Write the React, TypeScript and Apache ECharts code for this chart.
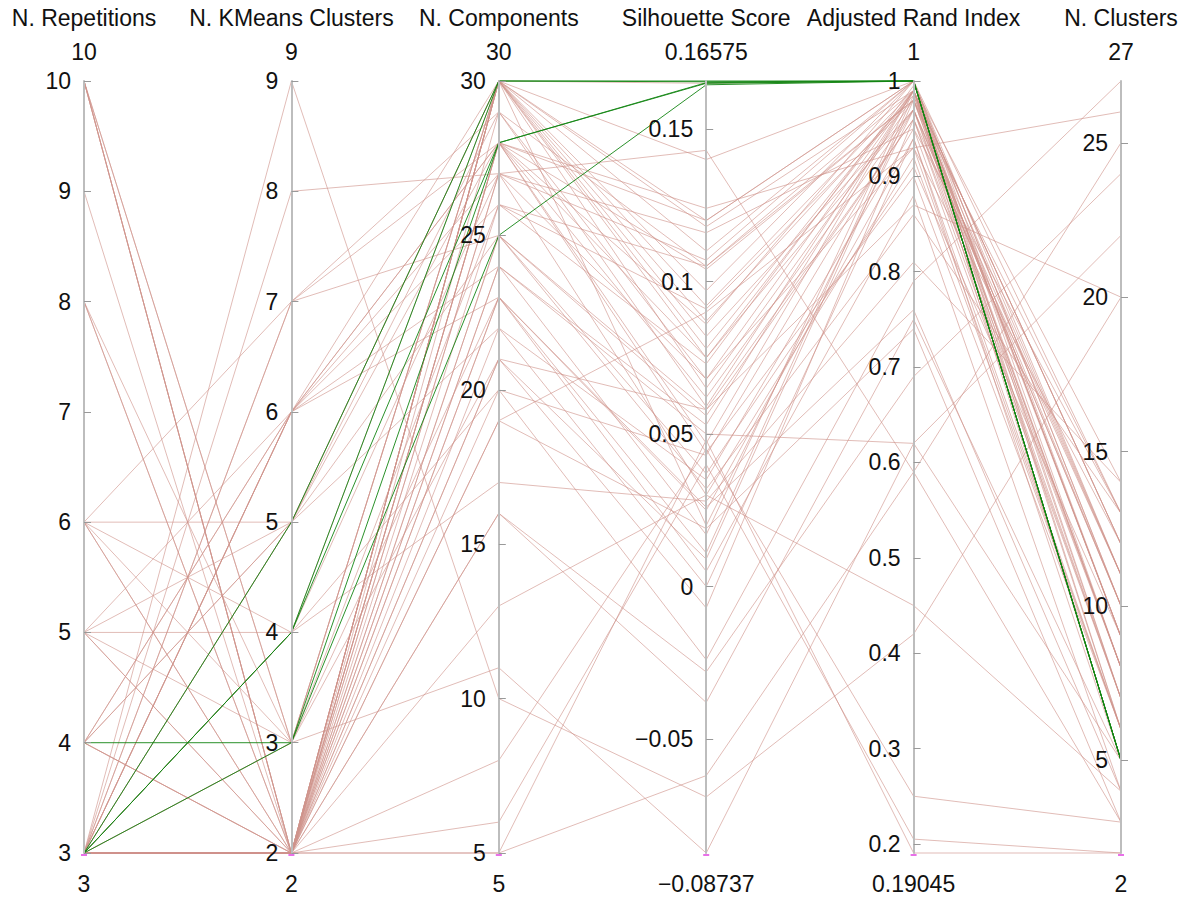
import React, { useEffect, useRef } from 'react';
import * as echarts from 'echarts';

const axisTitles = ['N. Repetitions', 'N. KMeans Clusters', 'N. Components', 'Silhouette Score', 'Adjusted Rand Index', 'N. Clusters'];

// other runs (pink)
const repetitions = [
  10, 10, 10, 10, 10, 9, 8, 8, 6, 6,
  6, 6, 5, 5, 5, 5, 4, 4, 4, 4,
  3, 3, 3, 3, 3, 3, 3, 3, 3, 3,
  3, 3, 3, 3, 3, 3, 3, 3, 3, 3,
  3, 4, 5, 6, 3, 4, 3, 5, 3, 3,
  10, 3, 3, 4, 3, 3, 6, 3, 3, 8,
  3, 3,
];
const kmeansClusters = [
  2, 2, 3, 2, 3, 2, 2, 3, 5, 2,
  3, 7, 4, 2, 3, 6, 6, 5, 2, 6,
  9, 8, 7, 6, 6, 5, 2, 2, 2, 2,
  2, 2, 2, 2, 2, 2, 2, 2, 2, 3,
  4, 5, 5, 4, 6, 2, 3, 2, 7, 2,
  2, 2, 6, 2, 2, 5, 2, 2, 4, 2,
  2, 2,
];
const components = [
  30, 28, 26, 22, 30, 27, 24, 23, 30, 25,
  21, 28, 20, 19, 30, 27, 28, 30, 23, 24,
  10, 27, 29, 28, 26, 25, 30, 30, 28, 27,
  24, 23, 21, 20, 16, 13, 8, 6, 5, 11,
  30, 28, 22, 17, 30, 29, 30, 25, 25, 30,
  28, 26, 23, 21, 19, 29, 30, 28, 27, 30,
  5, 16,
];
const silhouette = [
  0.118, 0.075, 0.105, 0.035, 0.140, 0.068, 0.053, 0.026, 0.092, 0.058,
  0.009, 0.120, 0.043, 0.019, 0.078, 0.116, 0.086, 0.065, 0.025, 0.050,
  -0.069, 0.143, 0.105, 0.124, 0.091, 0.056, 0.097, 0.075, 0.062, 0.030,
  0.017, 0.005, -0.007, -0.024, -0.028, 0.030, 0.045, 0.040, 0.048, -0.08737,
  0.110, 0.047, 0.0, 0.028, 0.082, 0.068, 0.120, 0.037, 0.032, 0.165,
  0.104, 0.073, 0.011, 0.058, 0.090, 0.059, 0.020, 0.044, 0.107, 0.087,
  -0.062, -0.038,
];
const randIndex = [
  0.99, 0.97, 0.98, 0.95, 1, 0.93, 0.99, 0.76, 0.99, 0.87,
  0.98, 1, 0.97, 0.74, 0.99, 0.95, 1, 0.98, 0.94, 0.62,
  0.42, 0.59, 0.99, 0.93, 0.98, 0.96, 1, 0.99, 0.97, 0.92,
  0.99, 0.88, 0.96, 0.79, 0.69, 0.45, 0.25, 0.205, 0.19045, 0.62,
  1, 0.99, 0.94, 0.81, 0.97, 0.99, 1, 0.91, 0.86, 1,
  0.98, 0.995, 0.985, 0.96, 0.93, 0.99, 0.97, 0.90, 1, 0.985,
  0.59, 0.75,
];
const nClusters = [
  9, 8, 10, 7, 11, 6, 9, 4, 12, 20,
  8, 10, 7, 3, 6, 13, 9, 11, 5, 22,
  20, 25, 12, 26, 13, 8, 7, 9, 10, 6,
  12, 4, 11, 27, 24, 4, 3, 2, 2, 5,
  8, 7, 6, 14, 11, 5, 10, 9, 13, 6,
  8, 14, 9, 7, 12, 11, 10, 6, 13, 8,
  3, 5,
];

// best runs (green)
const bestRepetitions = [3, 3, 3, 3, 4];
const bestKmeansClusters = [5, 4, 4, 3, 3];
const bestComponents = [30, 30, 28, 28, 25];
const bestSilhouette = [0.16575, 0.1655, 0.165, 0.1652, 0.1645];
const bestRandIndex = [1, 1, 1, 1, 1];
const bestNClusters = [5, 5, 5, 5, 5];

const FONT = '"Liberation Sans", Arial, sans-serif';
const FS = 23;

function fmt(v: number): string {
  const s = String(+v.toFixed(5));
  return s.replace('-', '\u2212');
}

export default function App() {
  const ref = useRef<HTMLDivElement>(null);
  useEffect(() => {
    const chart = echarts.init(ref.current!, null, { renderer: 'svg' });
    const cols = [repetitions, kmeansClusters, components, silhouette, randIndex, nClusters];
    const bestCols = [bestRepetitions, bestKmeansClusters, bestComponents, bestSilhouette, bestRandIndex, bestNClusters];
    const otherRows = repetitions.map((_, i) => cols.map((c) => c[i]));
    const bestRows = bestRepetitions.map((_, i) => bestCols.map((c) => c[i]));
    const mins = cols.map((c, k) => Math.min(...c, ...bestCols[k]));
    const maxs = cols.map((c, k) => Math.max(...c, ...bestCols[k]));

    const left = 84;
    const right = 66;
    const top = 81;
    const bottom = 46;
    const W = 1187;
    const H = 899;
    const step = (W - left - right) / (axisTitles.length - 1);

    const axisConf: any[] = [
      { interval: 1, showMin: true, showMax: true },
      { interval: 1, showMin: true, showMax: true },
      { splitNumber: 5, showMin: true, showMax: true },
      { splitNumber: 5, showMin: false, showMax: false },
      { splitNumber: 8, showMin: false, showMax: true },
      { splitNumber: 5, showMin: false, showMax: false },
    ];

    const parallelAxis = axisTitles.map((t, k) => ({
      dim: k,
      name: '',
      min: mins[k],
      max: maxs[k],
      interval: axisConf[k].interval,
      splitNumber: axisConf[k].splitNumber,
      axisLine: { show: true, lineStyle: { color: '#bdbdbd', width: 2 } },
      axisTick: { show: true, length: 7, inside: true, lineStyle: { color: '#999', width: 1 } },
      axisLabel: {
        show: true,
        fontSize: FS,
        color: '#111',
        fontFamily: FONT,
        margin: -13,
        align: 'right',
        verticalAlign: 'middle',
        showMinLabel: axisConf[k].showMin,
        showMaxLabel: axisConf[k].showMax,
        formatter: (v: number) => fmt(v),
      },
    }));

    const graphic: any[] = [];
    const txt = (x: number, y: number, text: string) => ({
      type: 'text',
      x,
      y,
      style: {
        text,
        fontSize: FS,
        fontFamily: FONT,
        fill: '#111',
        textAlign: 'center',
        textVerticalAlign: 'middle',
      },
      silent: true,
      z: 10,
    });
    axisTitles.forEach((t, k) => {
      const x = left + k * step;
      graphic.push(txt(x, 18, t));
      graphic.push(txt(x, 52, fmt(maxs[k])));
      graphic.push(txt(x, H - bottom + 31, fmt(mins[k])));
      graphic.push({
        type: 'line',
        shape: { x1: x - 3, y1: H - bottom + 2, x2: x + 3, y2: H - bottom + 2 },
        style: { stroke: '#e040e0', lineWidth: 1.5 },
        silent: true,
      });
    });

    chart.setOption({
      animation: false,
      backgroundColor: '#fff',
      parallel: {
        left,
        right,
        top,
        bottom,
        layout: 'horizontal',
      },
      parallelAxis,
      graphic,
      series: [
        {
          type: 'parallel',
          silent: true,
          data: otherRows,
          lineStyle: { color: '#cf938b', width: 1, opacity: 0.62 },
          emphasis: { disabled: true },
          inactiveOpacity: 0.62,
          activeOpacity: 0.62,
          z: 2,
        },
        {
          type: 'parallel',
          silent: true,
          data: bestRows,
          lineStyle: { color: '#138513', width: 1, opacity: 0.9 },
          emphasis: { disabled: true },
          z: 3,
        },
      ],
    });
    return () => chart.dispose();
  }, []);
  return <div ref={ref} style={{ position: 'fixed', left: 0, top: 0, width: 1187, height: 899 }} />;
}
